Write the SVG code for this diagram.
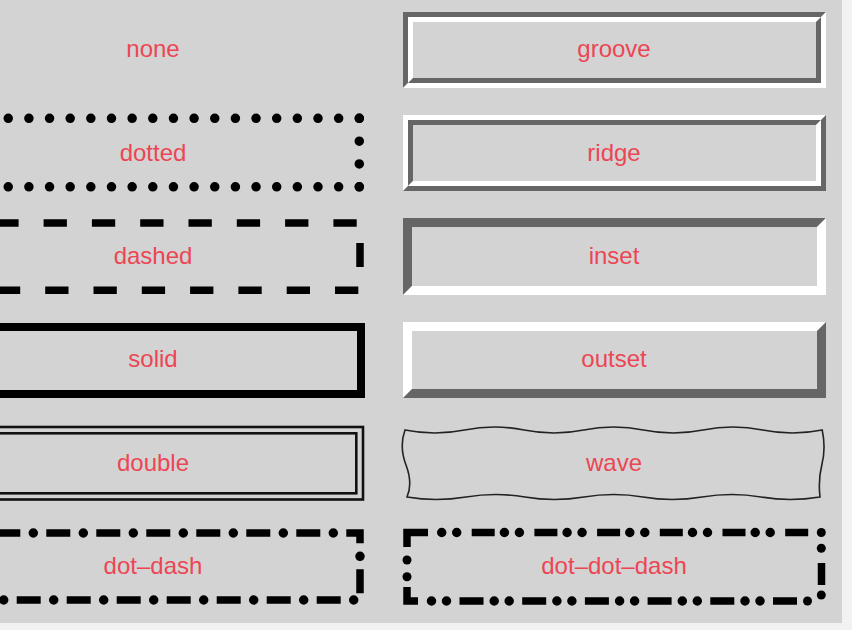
<svg xmlns="http://www.w3.org/2000/svg" width="852" height="630" viewBox="0 0 852 630">
<style>
.lbl{font-family:"Liberation Sans",Arial,Helvetica,sans-serif;font-size:24px;fill:#ec4654;text-anchor:middle}
.dk{fill:#666666}
.lt{fill:#ffffff}
.dots{fill:none;stroke:#000;stroke-linecap:round;stroke-width:9.5}
.dsh{fill:none;stroke:#000;stroke-linecap:butt;stroke-width:7.5}
.solid{fill:none;stroke:#000;stroke-width:8}
.dbl{fill:none;stroke:#111;stroke-width:2.6}
.wave{fill:none;stroke:#222;stroke-width:1.6}
.cdot{fill:#000}
</style>
<rect x="0" y="0" width="852" height="630" fill="#f2f2f2"/>
<rect x="0" y="0" width="842" height="623" fill="#d3d3d3"/>

<g id="none">
<text class="lbl" x="153" y="57">none</text>
</g>

<g id="groove">
<polygon class="dk" points="403,12 826,12 821,17 408,17 408,83 403,88"/>
<polygon class="lt" points="826,88 403,88 408,83 821,83 821,17 826,12"/>
<polygon class="lt" points="408,17 821,17 816,22 413,22 413,78 408,83"/>
<polygon class="dk" points="821,83 408,83 413,78 816,78 816,22 821,17"/>
<text class="lbl" x="614" y="57">groove</text>
</g>

<g id="dotted">
<line class="dots" x1="359.3" y1="118.3" x2="-60" y2="118.3" stroke-dasharray="0 20.65"/>
<line class="dots" x1="359.3" y1="186.8" x2="-60" y2="186.8" stroke-dasharray="0 20.65"/>
<line class="dots" x1="359.3" y1="118.3" x2="359.3" y2="186.8" stroke-dasharray="0 22.83"/>
<text class="lbl" x="153" y="161">dotted</text>
</g>

<g id="ridge">
<polygon class="lt" points="403,115 826,115 821,120 408,120 408,186 403,191"/>
<polygon class="dk" points="826,191 403,191 408,186 821,186 821,120 826,115"/>
<polygon class="dk" points="408,120 821,120 816,125 413,125 413,181 408,186"/>
<polygon class="lt" points="821,186 408,186 413,181 816,181 816,125 821,120"/>
<text class="lbl" x="614" y="161">ridge</text>
</g>

<g id="dashed">
<line class="dsh" x1="356.7" y1="223" x2="-60" y2="223" stroke-dasharray="23.3 25"/>
<line class="dsh" x1="358.3" y1="290.3" x2="-60" y2="290.3" stroke-dasharray="23.3 25"/>
<line class="dsh" x1="360" y1="243" x2="360" y2="267"/>
<text class="lbl" x="153" y="264">dashed</text>
</g>

<g id="inset">
<polygon class="dk" points="403,218 826,218 817,227 412,227 412,286 403,295"/>
<polygon class="lt" points="826,295 403,295 412,286 817,286 817,227 826,218"/>
<text class="lbl" x="614" y="264">inset</text>
</g>

<g id="solid">
<rect class="solid" x="-54" y="327" width="415" height="67"/>
<text class="lbl" x="153" y="367">solid</text>
</g>

<g id="outset">
<polygon class="lt" points="403,322 826,322 817,331 412,331 412,389 403,398"/>
<polygon class="dk" points="826,398 403,398 412,389 817,389 817,331 826,322"/>
<text class="lbl" x="614" y="367">outset</text>
</g>

<g id="double">
<rect class="dbl" x="-60" y="427" width="423" height="72.5"/>
<rect class="dbl" x="-54" y="433.3" width="410.3" height="60"/>
<text class="lbl" x="153" y="471">double</text>
</g>

<g id="wave">
<path class="wave" d="M405,430 Q434.8,436 464.6,430 T524.2,430 T583.8,430 T643.4,430 T703,430 T762.6,430 T822.2,430 Q826,448 822,464 T820,497 Q790,502 761,497 T702,497 T643,497 T584,497 T525,497 T466,497 T407,497 Q413,483.5 406,465 T405,430 Z"/>
<text class="lbl" x="614" y="471">wave</text>
</g>

<g id="dot-dash">
<path class="dsh" d="M-54,533 H360 V600 H-54 Z" stroke-dasharray="24 26" stroke-dashoffset="49.7"/>
<path class="dots" d="M-54,533 H360 V600 H-54 Z" stroke-width="9" stroke-dasharray="0 50" stroke-dashoffset="12.7"/>
<text class="lbl" x="153" y="574">dot–dash</text>
</g>

<g id="dot-dot-dash">
<path class="dsh" d="M407,547 V532.5 H428"/>
<path class="dsh" d="M407,587 V601 H418"/>
<line class="dots" x1="441.7" y1="532.5" x2="800" y2="532.5" stroke-width="9" stroke-dasharray="0 15 0 47.7"/>
<line class="dsh" x1="471.7" y1="532.5" x2="810" y2="532.5" stroke-dasharray="23 39.7"/>
<line class="dots" x1="760" y1="601" x2="420" y2="601" stroke-width="9" stroke-dasharray="0 15 0 47.7"/>
<line class="dsh" x1="797" y1="601" x2="455" y2="601" stroke-dasharray="24 38.7"/>
<line class="dsh" x1="821.5" y1="563" x2="821.5" y2="585"/>
<circle class="cdot" cx="821.3" cy="532.5" r="4.5"/>
<circle class="cdot" cx="821.3" cy="548.3" r="4.5"/>
<circle class="cdot" cx="821.3" cy="595" r="4.5"/>
<circle class="cdot" cx="807.5" cy="601" r="4.5"/>
<circle class="cdot" cx="407" cy="560" r="4.5"/>
<circle class="cdot" cx="407" cy="576.7" r="4.5"/>
<text class="lbl" x="614" y="574">dot–dot–dash</text>
</g>

<g id="connectors"/>
</svg>
